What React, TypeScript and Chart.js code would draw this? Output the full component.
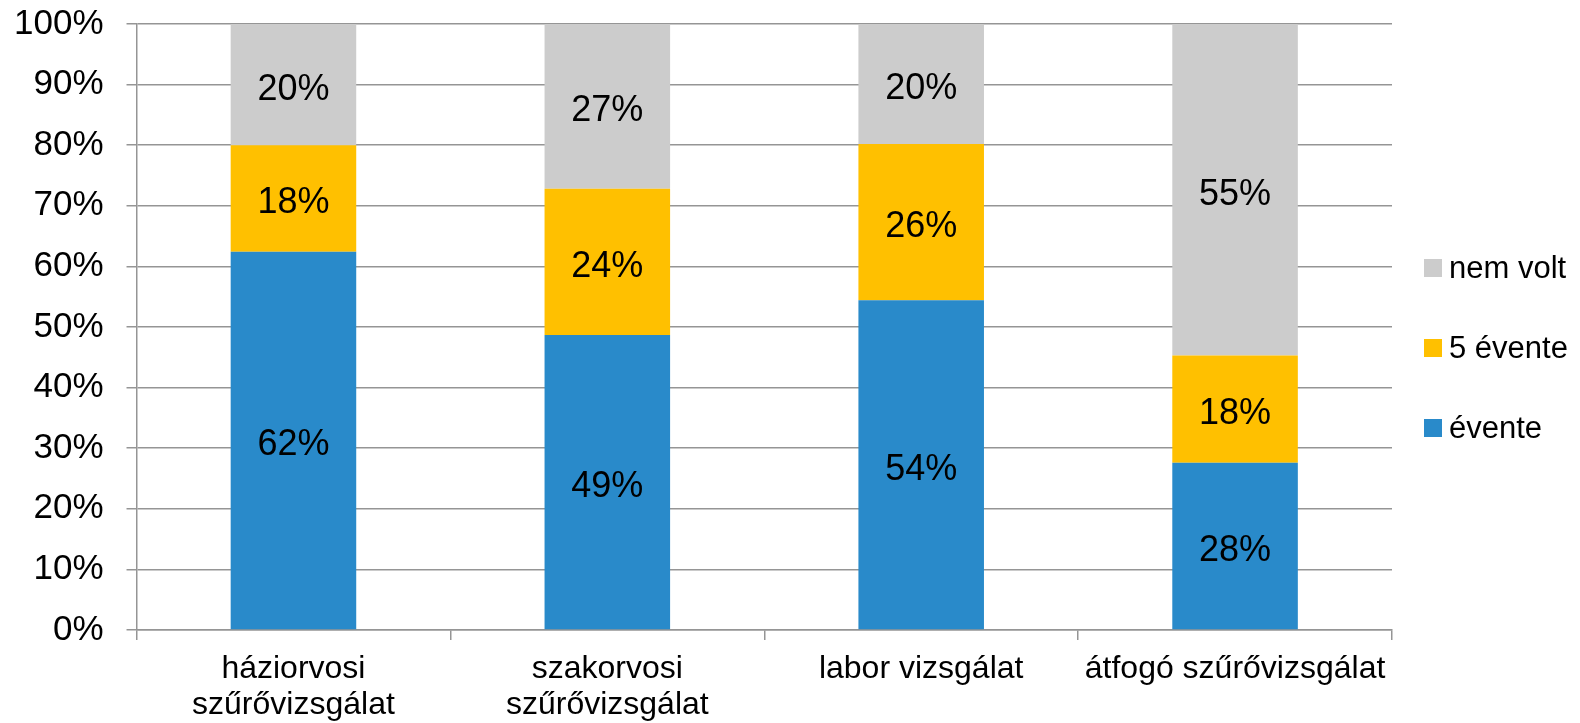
import { useEffect, useRef } from "react";
import { Chart, registerables } from "chart.js";

Chart.register(...registerables);

const categories: (string | string[])[] = [
  ["háziorvosi", "szűrővizsgálat"],
  ["szakorvosi", "szűrővizsgálat"],
  "labor vizsgálat",
  "átfogó szűrővizsgálat",
];
const seriesNames = ["évente", "5 évente", "nem volt"];
const evente = [62.4, 48.7, 54.4, 27.6];
const otEvente = [17.6, 24.1, 25.8, 17.7];
const nemVolt = [20.0, 27.2, 19.8, 54.7];
const seriesColors = ["#298ACA", "#FFC000", "#CCCCCC"];
const yMin = 0;
const yMax = 100;
const yStep = 10;

const FONT = '"Liberation Sans", Arial, sans-serif';

const dataLabelPlugin = {
  id: "dataLabels",
  afterDatasetsDraw(chart: any) {
    const ctx = chart.ctx;
    ctx.save();
    ctx.font = `36px ${FONT}`;
    ctx.fillStyle = "#000000";
    ctx.textAlign = "center";
    ctx.textBaseline = "middle";
    chart.data.datasets.forEach((ds: any, di: number) => {
      const meta = chart.getDatasetMeta(di);
      meta.data.forEach((el: any, i: number) => {
        const { x, y, base } = el.getProps(["x", "y", "base"], true);
        const v = ds.data[i];
        ctx.fillText(`${Math.round(v)}%`, x, (y + base) / 2 + 5);
      });
    });
    ctx.restore();
  },
};

const customLegendPlugin = {
  id: "customLegend",
  afterDraw(chart: any) {
    const ctx = chart.ctx;
    const area = chart.chartArea;
    const boxX = area.right + 32;
    const box = 18;
    const startY = 268;
    const gap = 80;
    ctx.save();
    ctx.font = `31px ${FONT}`;
    ctx.textAlign = "left";
    ctx.textBaseline = "middle";
    const ds = chart.data.datasets;
    const order = ds.map((_: any, i: number) => i).reverse();
    order.forEach((di: number, k: number) => {
      const cy = startY + k * gap;
      ctx.fillStyle = ds[di].backgroundColor;
      ctx.fillRect(boxX, cy - box / 2, box, box);
      ctx.fillStyle = "#000000";
      ctx.fillText(ds[di].label, boxX + box + 7, cy + 1);
    });
    ctx.restore();
  },
};

export default function App() {
  const ref = useRef<HTMLCanvasElement | null>(null);

  useEffect(() => {
    if (!ref.current) return;
    const seriesData = [evente, otEvente, nemVolt];
    const chart = new Chart(ref.current, {
      type: "bar",
      data: {
        labels: categories as any,
        datasets: seriesNames.map((name, i) => ({
          label: name,
          data: seriesData[i],
          backgroundColor: seriesColors[i],
          borderWidth: 0,
          categoryPercentage: 1,
          barPercentage: 0.4,
        })),
      },
      options: {
        animation: false,
        responsive: true,
        maintainAspectRatio: false,
        layout: { padding: { left: -9, top: 24, right: 188, bottom: -11 } },
        plugins: {
          legend: { display: false },
          tooltip: { enabled: false },
        },
        scales: {
          x: {
            stacked: true,
            offset: true,
            grid: {
              display: true,
              offset: true,
              drawOnChartArea: false,
              drawTicks: true,
              tickLength: 10,
              color: "#959595",
              lineWidth: 1.5,
            },
            border: { display: true, color: "#959595", width: 1.5 },
            ticks: {
              color: "#000000",
              font: { family: FONT, size: 32, lineHeight: 1.125 },
              padding: 11,
              maxRotation: 0,
              minRotation: 0,
              autoSkip: false,
            },
          },
          y: {
            stacked: true,
            min: yMin,
            max: yMax,
            grid: {
              color: "#959595",
              lineWidth: 1.5,
              drawTicks: true,
              tickLength: 10,
            },
            border: { display: true, color: "#959595", width: 1.5 },
            ticks: {
              stepSize: yStep,
              color: "#000000",
              font: { family: FONT, size: 35, lineHeight: 0.05 },
              padding: 23,
              callback: (v: any) => `${v}%`,
            },
          },
        },
      },
      plugins: [dataLabelPlugin, customLegendPlugin],
    });
    return () => chart.destroy();
  }, []);

  return (
    <div style={{ position: "fixed", left: 0, top: 0, width: 1580, height: 723, background: "#ffffff" }}>
      <canvas ref={ref} />
    </div>
  );
}
